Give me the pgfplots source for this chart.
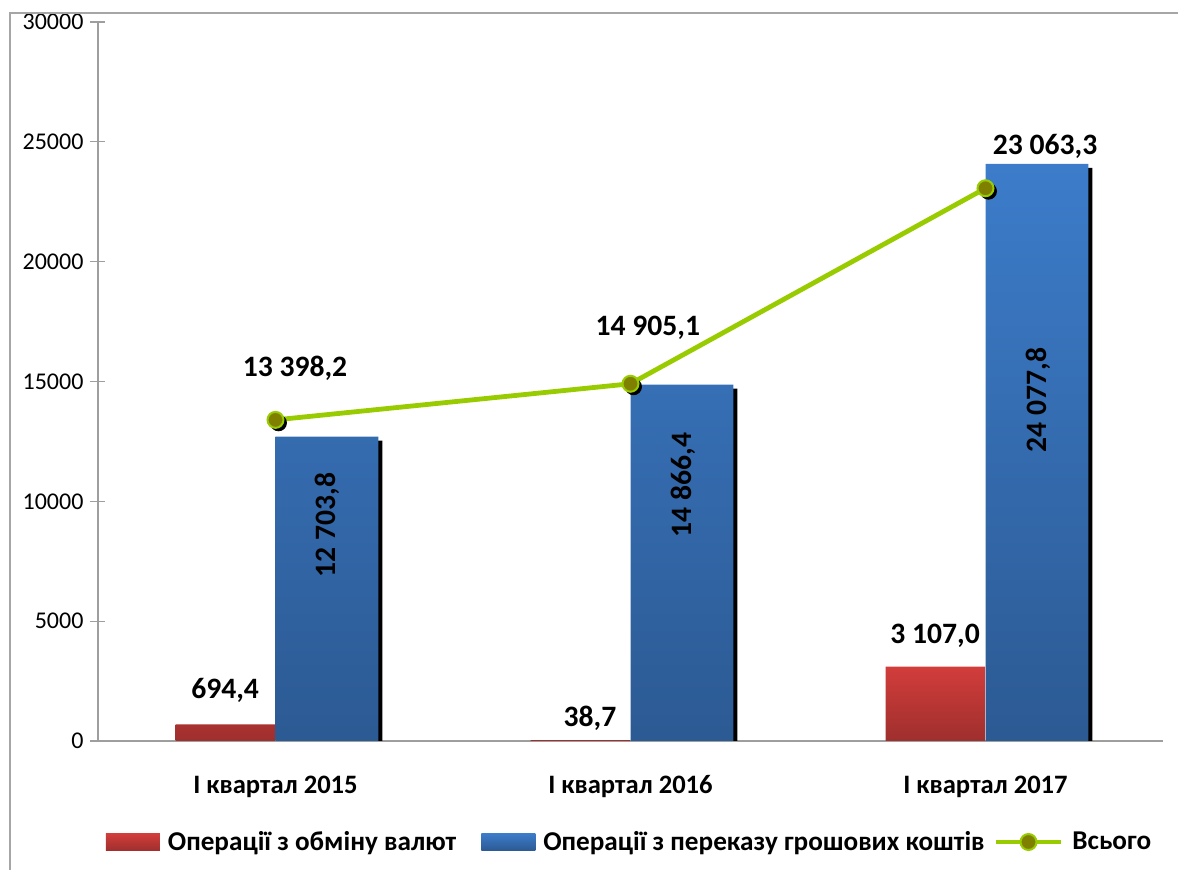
\documentclass[border=0pt]{standalone}
\usepackage{fontspec}
\setmainfont{Carlito}
\usepackage{pgfplots}
\pgfplotsset{compat=1.18}

\definecolor{barred}{HTML}{D23D3B}
\definecolor{barreddark}{HTML}{9E2F2D}
\definecolor{barblue}{HTML}{3C7CCA}
\definecolor{barbluedark}{HTML}{2C5A93}
\definecolor{linegreen}{HTML}{99CC00}
\definecolor{markolive}{HTML}{808000}
\definecolor{framegray}{HTML}{A6A6A6}
\definecolor{axisgray}{HTML}{9E9E9E}

\pgfplotsset{
  bar legend/.style={legend image code/.code={\path[##1, draw=none] (0pt,-4.25pt) rectangle (27pt,4.25pt); \path (29pt,0pt);}},
  dot legend/.style={legend image code/.code={\draw[mark repeat=2, mark phase=2, ##1] plot coordinates {(0pt,0pt) (16.25pt,0pt) (32.5pt,0pt)}; \path (35pt,0pt);}},
}

\pgfplotstableread{
x   exch     transfer   total
0   694.4    12703.8    13398.2
1   38.7     14866.4    14905.1
2   3107.0   24077.8    23063.3
}\quarters

\begin{document}
\begin{tikzpicture}
\begin{axis}[
  name=ax,
  scale only axis, width=532.5pt, height=359.5pt,
  xmin=-0.5, xmax=2.5, ymin=0, ymax=30000,
  axis lines*=left,
  axis line style={axisgray, line width=0.6pt, -},
  xtick={0,1,2},
  xticklabels={І квартал 2015, І квартал 2016, І квартал 2017},
  x tick style={draw=none},
  extra x ticks={-0.5,0.5,1.5,2.5},
  extra x tick labels={},
  extra x tick style={tick align=center, major tick length=8.5pt, tick style={axisgray, line width=0.6pt}},
  ytick={0,5000,...,30000},
  y tick style={axisgray, line width=0.6pt},
  tick align=center, major tick length=7.5pt,
  xtick pos=bottom, ytick pos=left,
  xticklabel style={font=\bfseries\fontsize{13.3}{15}\selectfont, yshift=-10pt},
  yticklabel style={font=\fontsize{12}{14}\selectfont},
  /pgf/number format/assume math mode=true,
  /pgf/number format/1000 sep={},
  scaled y ticks=false,
  legend columns=3,
  legend style={at={(0.5,-0.1405)}, anchor=center, draw=none, fill=none,
    font=\bfseries\fontsize{13.6}{16}\selectfont,
    /tikz/every even column/.append style={column sep=2.5pt}},
]
% shadow of blue bars
\addplot[forget plot, ybar, bar width=0.29, bar shift=0.145, draw=none, fill=black,
  xshift=2pt, yshift=-2pt] table[x=x, y=transfer] {\quarters};
\addplot[ybar, bar width=0.28, bar shift=-0.141, draw=none,
  top color=barred, bottom color=barreddark, bar legend] table[x=x, y=exch] {\quarters};
\addlegendentry{\mbox{Операції з обміну валют}\hspace*{8pt}}
\addplot[ybar, bar width=0.29, bar shift=0.145, draw=none,
  top color=barblue, bottom color=barbluedark, bar legend] table[x=x, y=transfer] {\quarters};
\addlegendentry{Операції з переказу грошових коштів}
% marker shadows
\addplot[forget plot, only marks, mark=*, mark size=4pt, black, xshift=1.5pt, yshift=-1.5pt]
  table[x=x, y=total] {\quarters};
\addplot[linegreen, line width=2.4pt, mark=*, mark size=4pt,
  mark options={fill=markolive, draw=linegreen, line width=1pt}, dot legend]
  table[x=x, y=total] {\quarters};
\addlegendentry{Всього}

% data labels
\begin{scope}[every node/.style={font=\bfseries\fontsize{14.8}{17}\selectfont, inner sep=0pt}]
\node at (axis cs:-0.142,2128) {694,4};
\node at (axis cs:0.886,960) {38,7};
\node at (axis cs:1.858,4381) {3 107,0};
\node[rotate=90] at (axis cs:0.145,9012) {12 703,8};
\node[rotate=90] at (axis cs:1.148,10681) {14 866,4};
\node[rotate=90] at (axis cs:2.148,14228) {24 077,8};
\node at (axis cs:0.055,15563) {13 398,2};
\node at (axis cs:1.049,17232) {14 905,1};
\node at (axis cs:2.168,24826) {23 063,3};
\end{scope}
\end{axis}
\pgfresetboundingbox
\path[use as bounding box] ([shift={(-49pt,-64.5pt)}]ax.south west) rectangle ([shift={(540pt,370.5pt)}]ax.south west);
\draw[framegray, line width=0.8pt] ([shift={(-44pt,-66pt)}]ax.south west) -- ([shift={(-44pt,364pt)}]ax.south west) -- ([shift={(542pt,364pt)}]ax.south west);
\end{tikzpicture}
\end{document}
